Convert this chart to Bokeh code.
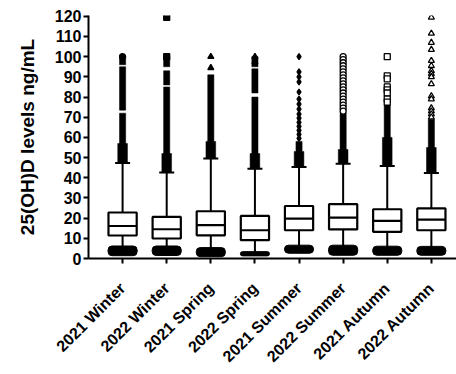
import math
from bokeh.plotting import figure
from bokeh.models import Range1d, FixedTicker, ColumnDataSource
from bokeh.embed import file_html
from bokeh.resources import INLINE

categories = ["2021 Winter", "2022 Winter", "2021 Spring", "2022 Spring",
              "2021 Summer", "2022 Summer", "2021 Autumn", "2022 Autumn"]
q1 = [11.4, 9.9, 11.5, 9.1, 14.0, 14.4, 13.2, 14.0]
median = [16.1, 14.5, 16.5, 14.0, 19.8, 20.3, 18.6, 19.3]
q3 = [22.8, 20.6, 23.4, 21.1, 26.0, 26.9, 24.4, 24.8]
whisker_hi = [47.3, 42.6, 49.5, 44.5, 45.3, 47.0, 45.8, 42.4]
whisker_lo = [5.0, 5.0, 5.0, 3.0, 5.0, 5.0, 5.0, 5.0]
low_blob_bottom = [1.4, 1.5, 0.9, 1.3, 2.6, 1.6, 1.6, 1.6]
low_blob_top = [6.2, 6.2, 5.4, 3.4, 6.6, 6.6, 6.1, 6.0]
# dense outlier columns: (group index, from, to)
dense_group = [0, 0, 0, 1, 1, 1, 2, 3, 3, 3, 4, 5, 6, 7]
dense_from = [47.3, 73.5, 96.0, 42.6, 86.0, 95.0, 49.5, 44.5, 82.0, 95.0, 45.3, 47.0, 45.8, 42.4]
dense_to = [72.0, 95.0, 100.0, 85.0, 93.0, 100.0, 91.0, 80.0, 94.0, 100.0, 58.0, 72.0, 76.0, 69.0]
# wider base of the outlier columns just above the upper whisker
base_top = [57.0, 52.0, 58.0, 52.0, 53.0, 54.0, 60.0, 55.0]
# sparse outliers per group
sparse = [
    [100.0],
    [119.5, 100.0],
    [100.0, 94.5],
    [100.0, 97.5],
    [100.0, 92.5, 90.0, 87.5, 82.5, 79.0, 76.5, 74.0, 71.5, 69.5, 67.5, 65.5, 63.5, 61.5, 59.5],
    [100.0, 98.5, 97.0, 95.5, 94.0, 92.5, 91.0, 89.5, 88.0, 86.5, 85.0, 83.5, 82.0, 80.5, 79.0, 77.5, 76.0, 74.5, 73.0],
    [100.0, 90.5, 89.0, 85.0, 83.5, 82.0, 79.0, 77.5],
    [119.5, 111.5, 107.0, 103.5, 98.0, 95.5, 93.0, 91.5, 90.0, 86.5, 80.5, 79.0, 74.5, 73.0, 71.5, 70.0],
]
markers = ["circle", "square", "triangle", "triangle", "diamond", "circle", "square", "triangle"]
filled = [True, True, True, True, True, False, False, False]
yticks = [0, 10, 20, 30, 40, 50, 60, 70, 80, 90, 100, 110, 120]

xs = list(range(1, len(categories) + 1))
FONT = "Liberation Sans"

p = figure(width=456, height=374, output_backend="svg", toolbar_location=None,
           x_range=Range1d(0.227, 8.57), y_range=Range1d(0, 120.4),
           min_border_left=88, min_border_right=0, min_border_top=15, min_border_bottom=116)
p.outline_line_color = None
p.xgrid.visible = False
p.ygrid.visible = False

bw = 0.64
# lower whiskers
p.segment(x0=xs, y0=whisker_lo, x1=xs, y1=q1, line_color="black", line_width=2)
# upper whiskers
p.segment(x0=xs, y0=q3, x1=xs, y1=whisker_hi, line_color="black", line_width=2)
# dense outlier columns
p.vbar(x=[xs[g] for g in dense_group], bottom=dense_from, top=dense_to, width=0.14,
       fill_color="black", line_color="black", line_width=0.5)
p.vbar(x=xs, bottom=whisker_hi, top=base_top, width=0.22,
       fill_color="black", line_color="black", line_width=0.5)
# caps
p.segment(x0=[x - 0.17 for x in xs], y0=whisker_hi, x1=[x + 0.17 for x in xs], y1=whisker_hi,
          line_color="black", line_width=2)
# low outlier blobs
p.vbar(x=xs, bottom=low_blob_bottom, top=low_blob_top, width=0.66,
       fill_color="black", line_color="black", line_width=1, border_radius=4)
# boxes
p.vbar(x=xs, bottom=q1, top=q3, width=bw, fill_color="white", line_color="black", line_width=2.2)
p.segment(x0=[x - bw / 2 for x in xs], y0=median, x1=[x + bw / 2 for x in xs], y1=median,
          line_color="black", line_width=2.2)
# sparse outliers
for i, vals in enumerate(sparse):
    src = ColumnDataSource(dict(x=[xs[i]] * len(vals), y=vals))
    p.scatter("x", "y", source=src, marker=markers[i], size=6,
              fill_color="black" if filled[i] else "white", line_color="black", line_width=1.3)

for ax in (p.xaxis, p.yaxis):
    ax.axis_line_width = 2
    ax.major_tick_line_width = 2
    ax.major_tick_out = 5
    ax.major_tick_in = 0
    ax.minor_tick_line_color = None
    ax.major_label_text_font = FONT
    ax.major_label_text_font_style = "bold"
    ax.major_label_text_color = "black"
    ax.axis_line_color = "black"
    ax.major_tick_line_color = "black"

p.yaxis.ticker = FixedTicker(ticks=yticks)
p.yaxis.major_label_text_font_size = "16px"
p.yaxis.major_label_standoff = 2
p.yaxis.axis_label = "25(OH)D levels ng/mL"
p.yaxis.axis_label_text_font = FONT
p.yaxis.axis_label_text_font_style = "bold"
p.yaxis.axis_label_text_font_size = "19px"
p.yaxis.axis_label_text_color = "black"
p.yaxis.axis_label_standoff = 14

p.xaxis.ticker = FixedTicker(ticks=xs)
p.xaxis.major_label_overrides = {x: c for x, c in zip(xs, categories)}
p.xaxis.major_label_orientation = math.pi / 4
p.xaxis.major_label_text_font_size = "16px"
p.xaxis.major_label_standoff = 22

open("out.html", "w").write(file_html(p, INLINE))
